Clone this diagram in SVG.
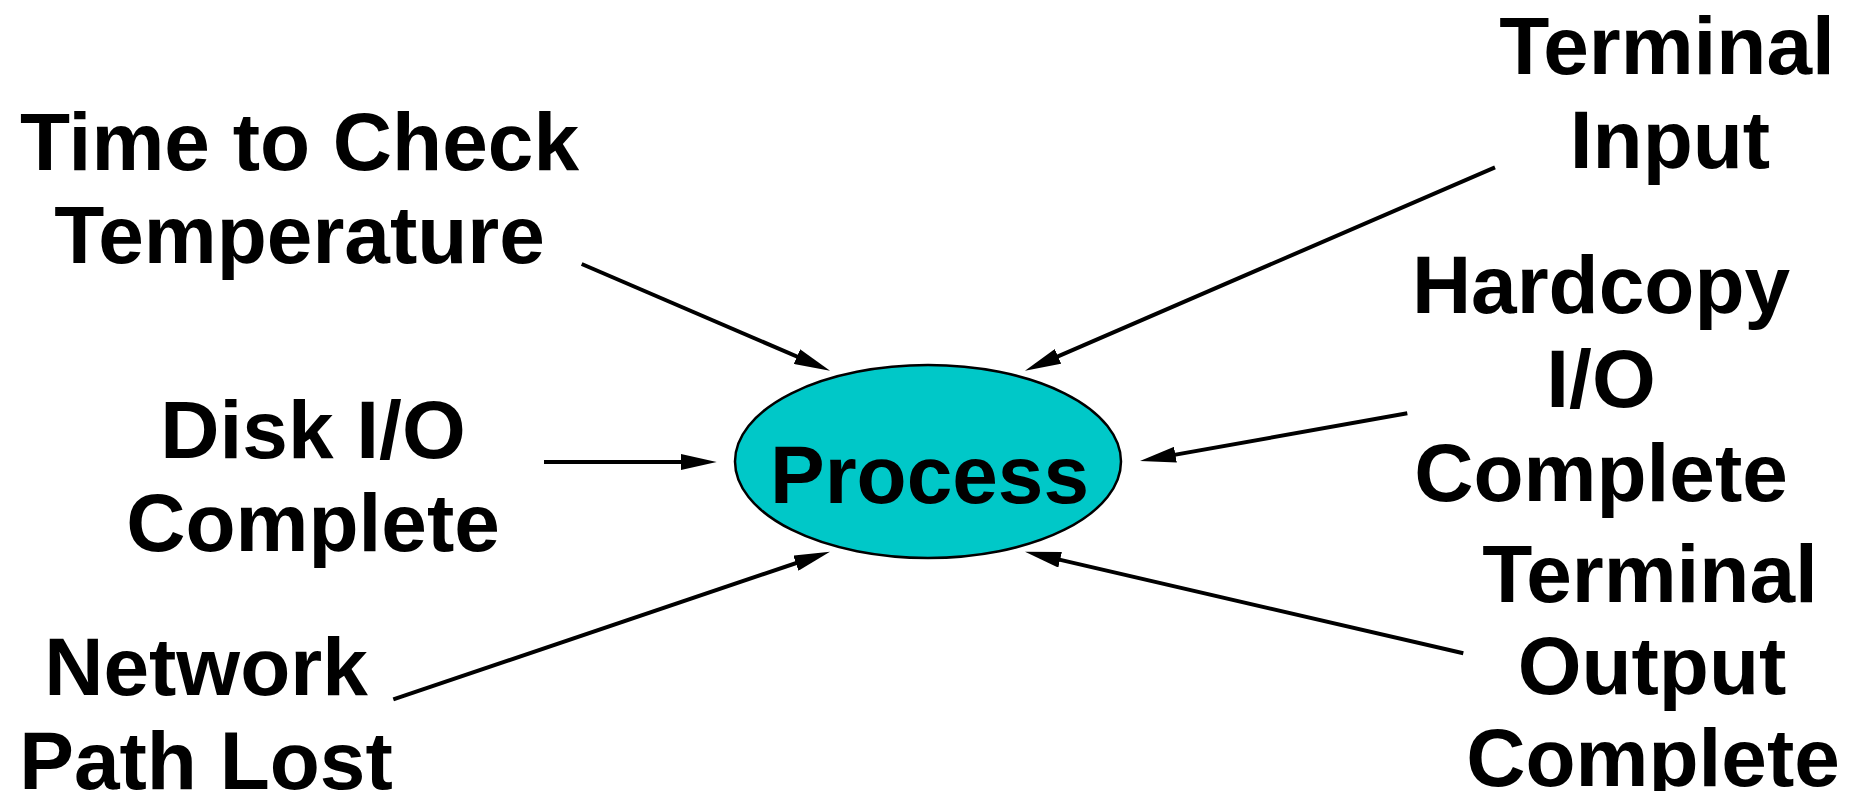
<svg xmlns="http://www.w3.org/2000/svg" width="1858" height="791" viewBox="0 0 1858 791">
  <style>
    .label { font-family: "Liberation Sans", Arial, sans-serif; font-weight: bold; font-size: 82px; fill: #000; text-anchor: middle; }
    .edge { stroke: #000; stroke-width: 4; fill: none; marker-end: url(#arrow); }
    .proc { fill: #00C8C8; stroke: #000; stroke-width: 2.5; }
  </style>
  <defs>
    <marker id="arrow" markerUnits="userSpaceOnUse" markerWidth="36" markerHeight="16" refX="24" refY="8" orient="auto">
      <path d="M0,0 L36,8 L0,16 z" fill="#000"/>
    </marker>
  </defs>
  <rect width="1858" height="791" fill="#fff"/>

  <g id="connectors">
    <line class="edge" x1="581.7" y1="264" x2="819" y2="366"/>
    <line class="edge" x1="544" y1="462" x2="704.7" y2="462"/>
    <line class="edge" x1="393.3" y1="699.3" x2="818.6" y2="555.5"/>
    <line class="edge" x1="1495" y1="167.3" x2="1036" y2="365.9"/>
    <line class="edge" x1="1407.3" y1="413.3" x2="1151.8" y2="458.9"/>
    <line class="edge" x1="1463.3" y1="653.3" x2="1036.7" y2="554.4"/>
  </g>

  <g id="process">
    <ellipse class="proc" cx="928" cy="461.5" rx="193" ry="96.5"/>
    <text class="label" x="929.5" y="503">Process</text>
  </g>

  <g id="time-to-check">
    <text class="label" x="299.5" y="170">Time to Check</text>
    <text class="label" x="299.5" y="263">Temperature</text>
  </g>

  <g id="disk-io">
    <text class="label" x="313" y="458">Disk I/O</text>
    <text class="label" x="313" y="551">Complete</text>
  </g>

  <g id="network">
    <text class="label" x="206" y="695">Network</text>
    <text class="label" x="206" y="789">Path Lost</text>
  </g>

  <g id="terminal-input">
    <text class="label" x="1667" y="74">Terminal</text>
    <text class="label" x="1670" y="168">Input</text>
  </g>

  <g id="hardcopy-io">
    <text class="label" x="1601" y="313">Hardcopy</text>
    <text class="label" x="1601" y="407">I/O</text>
    <text class="label" x="1601" y="501">Complete</text>
  </g>

  <g id="terminal-output">
    <text class="label" x="1650" y="602">Terminal</text>
    <text class="label" x="1652" y="694">Output</text>
    <text class="label" x="1653" y="786">Complete</text>
  </g>
</svg>
